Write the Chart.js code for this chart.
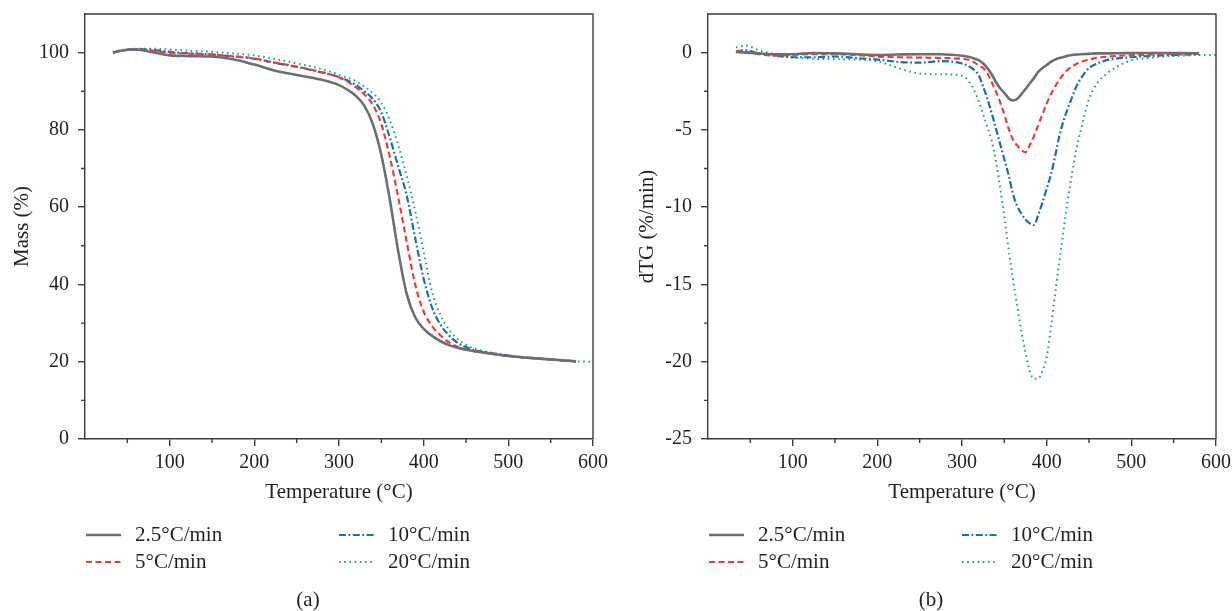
<!DOCTYPE html>
<html>
<head>
<meta charset="utf-8">
<script src="https://cdn.jsdelivr.net/npm/chart.js@4.4.1/dist/chart.umd.min.js"></script>
<style>
  html, body { margin: 0; padding: 0; background: #fff; }
  .panel { position: absolute; top: 0; width: 616px; height: 611px; }
  #left { left: 0; }
  #right { left: 616px; }
</style>
</head>
<body>
<div class="panel" id="left"><canvas id="massChart" width="616" height="611"></canvas></div>
<div class="panel" id="right"><canvas id="dtgChart" width="616" height="611"></canvas></div>
<script>
// heating rates
const rates = ['2.5°C/min', '5°C/min', '10°C/min', '20°C/min'];

// (a) mass loss curves
const massTemps = [33, 45, 60, 80, 100, 125, 150, 175, 200, 225, 250, 275, 300, 310, 320, 330, 340, 350, 360, 370, 380, 390, 400, 410, 420, 430, 440, 450, 460, 480, 500, 525, 550, 580, 600];
const mass25 = [100.0, 100.6, 100.8, 100.1, 99.3, 99.1, 99.0, 98.3, 96.9, 95.3, 94.2, 93.2, 91.6, 90.4, 88.8, 86.2, 81.5, 73.5, 62.0, 48.5, 37.5, 31.5, 28.5, 26.7, 25.3, 24.3, 23.6, 23.1, 22.7, 22.1, 21.5, 21.0, 20.6, 20.1, null];
const mass5 = [100.0, 100.6, 100.8, 100.5, 100.0, 99.7, 99.5, 99.1, 98.5, 97.4, 96.4, 95.2, 93.6, 92.5, 91.0, 89.2, 86.5, 81.5, 73.0, 62.5, 51.0, 40.0, 33.0, 29.2, 26.8, 25.0, 23.9, 23.2, 22.7, 22.1, 21.5, 21.0, 20.6, 20.1, null];
const mass10 = [100.0, 100.6, 100.9, 100.7, 100.2, 99.8, 99.5, 99.0, 98.4, 97.3, 96.3, 95.1, 93.7, 92.8, 91.6, 90.0, 88.0, 84.5, 78.0, 70.5, 63.0, 52.0, 41.5, 34.0, 29.5, 26.8, 24.9, 23.8, 23.0, 22.2, 21.6, 21.0, 20.6, 20.1, null];
const mass20 = [100.2, 100.7, 101.0, 101.0, 100.8, 100.5, 100.2, 99.8, 99.3, 98.3, 97.2, 96.0, 94.3, 93.5, 92.6, 91.2, 89.5, 87.0, 82.5, 76.0, 68.0, 59.0, 48.5, 38.0, 32.0, 28.3, 25.9, 24.4, 23.4, 22.3, 21.6, 21.0, 20.6, 20.1, 20.0];

// (b) derivative curves
const dtgTemps = [33, 45, 60, 80, 100, 125, 150, 175, 200, 225, 250, 275, 300, 310, 315, 320, 325, 330, 335, 340, 345, 350, 355, 360, 365, 370, 375, 380, 385, 390, 395, 400, 405, 410, 415, 420, 425, 430, 435, 440, 450, 460, 470, 480, 500, 520, 540, 560, 580, 600];
const dtg25 = [0.05, 0.0, -0.05, -0.1, -0.1, -0.02, -0.05, -0.1, -0.15, -0.12, -0.1, -0.1, -0.2, -0.3, -0.4, -0.5, -0.7, -1.0, -1.4, -1.9, -2.3, -2.6, -2.95, -3.1, -3.0, -2.7, -2.35, -2.0, -1.65, -1.25, -1.0, -0.8, -0.6, -0.45, -0.35, -0.28, -0.2, -0.15, -0.12, -0.1, -0.08, -0.05, -0.05, -0.04, -0.03, -0.02, -0.02, -0.03, -0.05, null];
const dtg5 = [0.1, 0.05, -0.1, -0.2, -0.15, -0.1, -0.1, -0.15, -0.25, -0.3, -0.32, -0.35, -0.4, -0.5, -0.65, -0.85, -1.0, -1.35, -1.9, -2.5, -3.2, -4.0, -4.9, -5.6, -6.0, -6.3, -6.45, -6.0, -5.4, -4.7, -4.0, -3.3, -2.7, -2.2, -1.75, -1.4, -1.1, -0.9, -0.73, -0.6, -0.45, -0.33, -0.27, -0.22, -0.17, -0.13, -0.1, -0.08, -0.06, null];
const dtg10 = [0.1, 0.15, -0.05, -0.2, -0.3, -0.3, -0.25, -0.35, -0.45, -0.6, -0.65, -0.55, -0.7, -0.95, -1.15, -1.5, -2.2, -3.0, -3.9, -4.9, -5.9, -6.9, -7.9, -9.1, -9.9, -10.4, -10.8, -11.05, -11.15, -10.5, -9.7, -8.8, -7.9, -6.7, -5.4, -4.4, -3.6, -2.9, -2.2, -1.7, -1.0, -0.7, -0.5, -0.4, -0.3, -0.22, -0.17, -0.13, -0.1, null];
const dtg20 = [0.35, 0.45, 0.15, -0.1, -0.3, -0.4, -0.42, -0.45, -0.55, -1.0, -1.35, -1.4, -1.5, -2.0, -2.5, -3.2, -4.0, -4.8, -5.7, -7.0, -8.7, -10.6, -12.7, -14.6, -16.3, -18.0, -19.4, -20.6, -21.1, -21.1, -20.6, -19.7, -17.8, -15.6, -13.5, -11.5, -9.5, -7.8, -6.3, -5.1, -3.0, -1.95, -1.4, -1.0, -0.5, -0.35, -0.25, -0.2, -0.15, -0.15];

// axis ticks
const xTicks = [100, 200, 300, 400, 500, 600];
const xMinor = [50, 150, 250, 350, 450, 550];
const massTicks = [0, 20, 40, 60, 80, 100];
const massMinor = [10, 30, 50, 70, 90];
const dtgTicks = [0, -5, -10, -15, -20, -25];
const dtgMinor = [-2.5, -7.5, -12.5, -17.5, -22.5];

const FONT = "'Liberation Serif', 'Times New Roman', serif";
const TEXT = '#231f20';
const AXIS = '#3c3c3c';

const lineStyles = [
    { color: '#6d6e71', width: 2.6, dash: [] },
    { color: '#ee3d37', width: 2.2, dash: [6, 3.5] },
    { color: '#1b6db7', width: 2.2, dash: [7, 2.5, 1.8, 2.5] },
    { color: '#17a67b', width: 2, dash: [1.6, 3.6] }
];

Chart.defaults.font.family = FONT;
Chart.defaults.font.size = 20;
Chart.defaults.color = TEXT;

function points(temps, vals) {
    return temps.map((t, i) => ({ x: t, y: vals[i] })).filter(p => p.y !== null);
}

function makeDatasets(temps, series) {
    return series.map((vals, i) => ({
        label: rates[i],
        data: points(temps, vals),
        borderColor: lineStyles[i].color,
        borderWidth: lineStyles[i].width,
        borderDash: lineStyles[i].dash,
        pointRadius: 0,
        fill: false,
        cubicInterpolationMode: 'monotone'
    }));
}

// frame, minor ticks, legend and caption under each panel
const panelDecor = {
    id: 'panelDecor',
    afterDraw(chart, args, opts) {
        const ctx = chart.ctx, a = chart.chartArea;
        const xs = chart.scales.x, ys = chart.scales.y;
        ctx.save();
        ctx.strokeStyle = AXIS;
        ctx.lineWidth = 1.4;
        ctx.beginPath();
        ctx.moveTo(a.left, a.top);
        ctx.lineTo(a.right, a.top);
        ctx.lineTo(a.right, a.bottom);
        xMinor.forEach(v => {
            const px = xs.getPixelForValue(v);
            ctx.moveTo(px, a.bottom);
            ctx.lineTo(px, a.bottom + 4);
        });
        opts.yMinor.forEach(v => {
            const py = ys.getPixelForValue(v);
            ctx.moveTo(a.left, py);
            ctx.lineTo(a.left - 4, py);
        });
        ctx.stroke();

        ctx.font = '21px ' + FONT;
        ctx.fillStyle = TEXT;
        ctx.textBaseline = 'middle';
        ctx.textAlign = 'left';
        chart.data.datasets.forEach((ds, i) => {
            const col = Math.floor(i / 2), row = i % 2;
            const x0 = a.left + 1 + col * 253;
            const y0 = a.bottom + 96 + row * 27;
            ctx.save();
            ctx.strokeStyle = ds.borderColor;
            ctx.lineWidth = ds.borderWidth;
            ctx.setLineDash(ds.borderDash);
            ctx.beginPath();
            ctx.moveTo(x0, y0);
            ctx.lineTo(x0 + 35, y0);
            ctx.stroke();
            ctx.restore();
            ctx.fillText(ds.label, x0 + 49, y0);
        });

        ctx.textAlign = 'center';
        ctx.fillText(opts.caption, a.left + 223, a.bottom + 161);
        ctx.restore();
    }
};

function makeChart(id, temps, series, yOpts) {
    return new Chart(document.getElementById(id), {
        type: 'line',
        data: { datasets: makeDatasets(temps, series) },
        plugins: [panelDecor],
        options: {
            responsive: false,
            animation: false,
            layout: { padding: { top: 14, right: yOpts.rightPad, bottom: 106, left: 0 } },
            plugins: {
                legend: { display: false },
                tooltip: { enabled: false },
                panelDecor: { yMinor: yOpts.minor, caption: yOpts.caption }
            },
            scales: {
                x: {
                    type: 'linear',
                    min: 0,
                    max: 600,
                    afterBuildTicks: s => { s.ticks = xTicks.map(v => ({ value: v })); },
                    afterFit: s => { s.height = 66; s.paddingLeft = 0; s.paddingRight = 0; },
                    grid: { drawOnChartArea: false, tickLength: 7, color: AXIS, lineWidth: 1.4 },
                    border: { display: true, color: AXIS, width: 1.4 },
                    ticks: { padding: 5, color: TEXT, maxRotation: 0, autoSkip: false },
                    title: { display: true, text: 'Temperature (°C)', color: TEXT, font: { size: 21 }, padding: { top: 0, bottom: 0 } }
                },
                y: {
                    min: yOpts.min,
                    max: yOpts.max,
                    afterBuildTicks: s => { s.ticks = yOpts.ticks.map(v => ({ value: v })); },
                    afterFit: s => { s.width = yOpts.axisWidth; s.paddingTop = 0; s.paddingBottom = 0; },
                    grid: { drawOnChartArea: false, tickLength: 7, color: AXIS, lineWidth: 1.4 },
                    border: { display: true, color: AXIS, width: 1.4 },
                    ticks: { padding: 9, color: TEXT, autoSkip: false },
                    title: { display: true, text: yOpts.title, color: TEXT, font: { size: 21 }, padding: { top: yOpts.titlePad, bottom: 0 } }
                }
            }
        }
    });
}

document.addEventListener("DOMContentLoaded", function () {
    makeChart('massChart', massTemps, [mass25, mass5, mass10, mass20], {
        min: 0, max: 110, ticks: massTicks, minor: massMinor,
        title: 'Mass (%)', titlePad: 10, axisWidth: 85, rightPad: 23, caption: '(a)'
    });
    makeChart('dtgChart', dtgTemps, [dtg25, dtg5, dtg10, dtg20], {
        min: -25, max: 2.5, ticks: dtgTicks, minor: dtgMinor,
        title: 'dTG (%/min)', titlePad: 19, axisWidth: 92, rightPad: 16, caption: '(b)'
    });
});
</script>
</body>
</html>
